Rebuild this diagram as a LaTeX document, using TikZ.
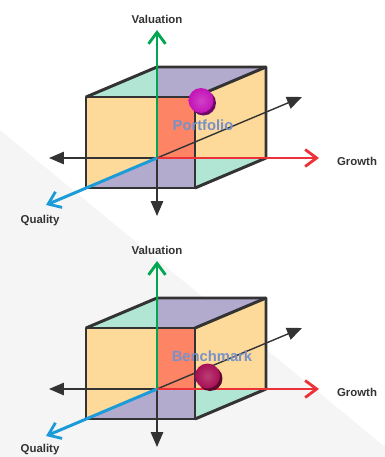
\documentclass[tikz,border=0pt]{standalone}
\usepackage{fontspec}
\setmainfont{Liberation Sans}
\usetikzlibrary{arrows.meta}
\definecolor{cubeedge}{RGB}{51,51,51}
\definecolor{facemintc}{RGB}{178,230,212}
\definecolor{facelavc}{RGB}{179,171,205}
\definecolor{facepeachc}{RGB}{253,218,154}
\definecolor{facesalmonc}{RGB}{254,132,102}
\definecolor{axgreen}{RGB}{0,166,80}
\definecolor{axred}{RGB}{237,50,55}
\definecolor{axblue}{RGB}{27,156,216}
\definecolor{labelgray}{RGB}{51,51,51}
\definecolor{labelblue}{RGB}{120,145,200}
\definecolor{bggray}{RGB}{245,245,245}
\definecolor{ballA}{RGB}{196,18,184}
\definecolor{ballB}{RGB}{168,14,84}
\tikzset{
  facemint/.style  ={fill=facemintc},
  facelav/.style   ={fill=facelavc},
  facepeach/.style ={fill=facepeachc},
  facesalmon/.style={fill=facesalmonc},
  cubeline/.style={draw=cubeedge, line width=1.7pt, line join=round},
  thinaxis/.style={-{Triangle[length=3mm, width=2.5mm]}, line width=0.8pt, cubeedge},
  axbarb/.style  ={-{Straight Barb[length=2.3mm, width=3.4mm, line width=1.6pt]}, line width=1.7pt},
  valaxis/.style ={axbarb, axgreen},
  groaxis/.style ={axbarb, axred},
  quaaxis/.style ={axbarb, axblue},
  axlabel/.style ={font=\fontsize{6.5}{7}\selectfont\bfseries, text=labelgray},
  boxlabel/.style={font=\fontsize{8.4}{9}\selectfont\bfseries, text=labelblue},
  ballnode/.style={circle, minimum size=5mm, inner sep=0pt},
}

\begin{document}
\begin{tikzpicture}[x=0.02cm, y=-0.02cm]
  \useasboundingbox (0,0) rectangle (385,457);
  \fill[bggray] (0,130) -- (385,447) -- (385,457) -- (0,457) -- cycle;
  \foreach \i/\dy/\qy/\txt/\lx/\bx/\by/\bcol in
      {a/0/221/Portfolio/203/201/100.5/ballA,
       b/231/219/Benchmark/212/207.5/376-231/ballB} {
    \begin{scope}[shift={(0,\dy)}]
      % cube faces
      \fill[facemint]   (86,97) -- (157,67) -- (157,97) -- cycle;
      \fill[facelav]    (157,67) -- (266,67) -- (195,97) -- (157,97) -- cycle;
      \fill[facepeach]  (195,97) -- (266,67) -- (266,158) -- (195,158) -- cycle;
      \fill[facemint]   (195,158) -- (266,158) -- (195,188) -- cycle;
      \fill[facepeach]  (86,97) -- (157,97) -- (157,158) -- (86,188) -- cycle;
      \fill[facesalmon] (157,97) rectangle (195,158);
      \fill[facelav]    (157,158) -- (195,158) -- (195,188) -- (86,188) -- cycle;
      \draw[cubeline] (86,97) rectangle (195,188);
      \draw[cubeline] (86,97) -- (157,67) -- (266,67) -- (266,158) -- (195,188);
      \draw[cubeline] (195,97) -- (266,67);
      % axes
      \coordinate (o\i)  at (157,158);
      \coordinate (up\i) at (157,30);
      \coordinate (rt\i) at (319,158);
      \coordinate (lf\i) at (49,158);
      \coordinate (dn\i) at (157,216);
      \coordinate (bk\i) at (302,97);
      \coordinate (fw\i) at (46,205);
      \draw[thinaxis] (o\i) -- (lf\i);
      \draw[thinaxis] (o\i) -- (dn\i);
      \draw[thinaxis] (o\i) -- (bk\i);
      \draw[valaxis]  (o\i) -- (up\i);
      \draw[groaxis]  (o\i) -- (rt\i);
      \draw[quaaxis]  (o\i) -- (fw\i);
      \node[axlabel] (val\i) at (157,19)  {Valuation};
      \node[axlabel] (gro\i) at (357,161) {Growth};
      \node[axlabel] (qua\i) at (40,\qy)  {Quality};
      % point
      \node[boxlabel] (lab\i) at (\lx,125.5) {\txt};
      \node[ballnode, fill=\bcol!55!black] (shd\i) at (\bx+2.5,\by+2.5) {};
      \node[ballnode, inner color=\bcol!80!white, outer color=\bcol] (ball\i) at (\bx,\by) {};
    \end{scope}
  }
\end{tikzpicture}
\end{document}
